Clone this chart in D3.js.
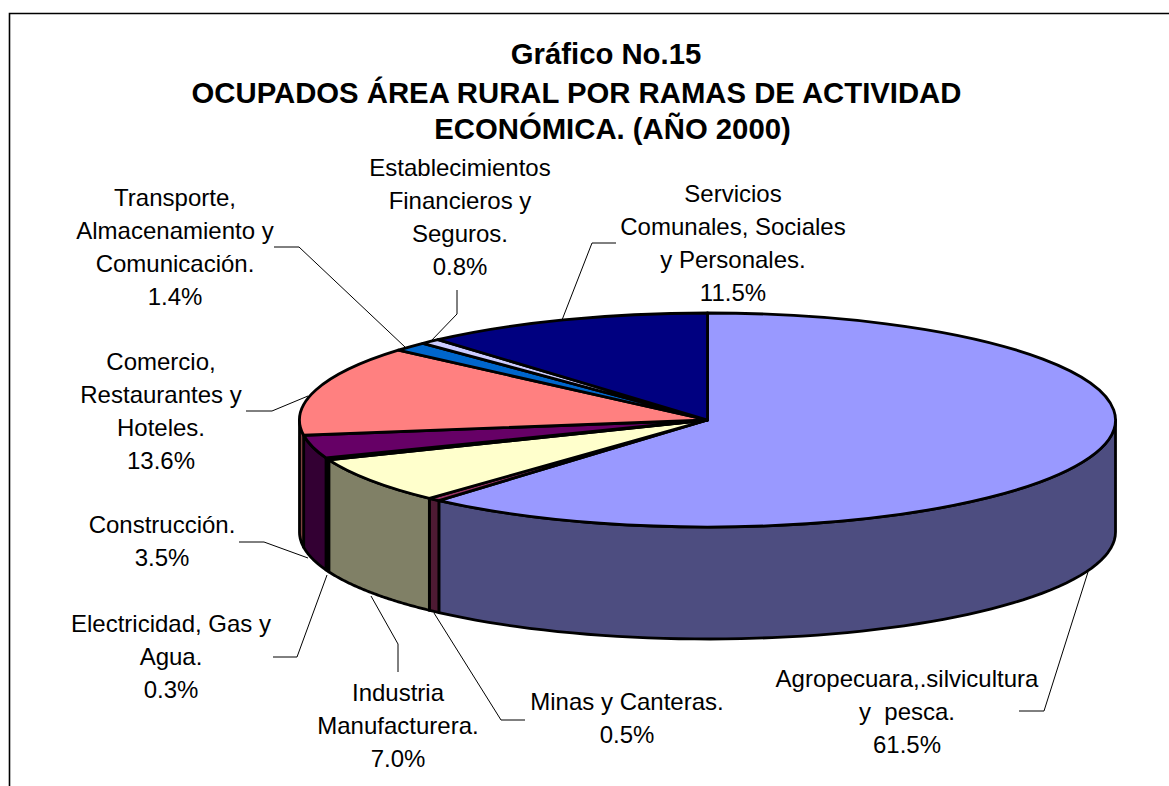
<!DOCTYPE html>
<html><head><meta charset="utf-8">
<script src="https://cdn.jsdelivr.net/npm/d3@7"></script>
<style>html,body{margin:0;padding:0;background:#fff}svg{display:block}text{font-family:"Liberation Sans",Arial,sans-serif;fill:#000}</style>
</head><body><svg id="c" width="1169" height="786"></svg>
<script>
const categories=["Agropecuara,.silvicultura y  pesca.","Minas y Canteras.","Industria Manufacturera.","Electricidad, Gas y Agua.","Construcción.","Comercio, Restaurantes y Hoteles.","Transporte, Almacenamiento y Comunicación.","Establecimientos Financieros y Seguros.","Servicios Comunales, Sociales y Personales."];
const values=[61.5,0.5,7.0,0.3,3.5,13.6,1.4,0.8,11.5];
const topColors=["#9999FF","#993366","#FFFFCC","#CCFFFF","#660066","#FF8080","#0066CC","#CCCCFF","#000080"];
const sideColors=["#4D4D80","#4D1A33","#808066","#668080","#330033","#804040","#003366","#666680","#000040"];
const titleLines=["Gráfico No.15","OCUPADOS ÁREA RURAL POR RAMAS DE ACTIVIDAD","ECONÓMICA. (AÑO 2000)"];
const titleAnchors=[[606,64],[576.5,103],[612.5,138.5]];
const labelLines=[
 ["Agropecuara,.silvicultura","y\u00A0\u00A0pesca."],["Minas y Canteras."],["Industria","Manufacturera."],
 ["Electricidad, Gas y","Agua."],["Construcción."],["Comercio,","Restaurantes y","Hoteles."],
 ["Transporte,","Almacenamiento y","Comunicación."],["Establecimientos","Financieros y","Seguros."],
 ["Servicios","Comunales, Sociales","y Personales."]];
const labelAnchors=[[907,687],[627,710],[398,701],[171,632],[162,533],[161,370],[175,206],[460,176],[733,202]];
const leaders=[
 [[1019,711],[1044,711],[1088,572]],
 [[525,720],[501,720],[434,613]],
 [[398,672],[398,644],[371,596]],
 [[273,657],[297,657],[327,575]],
 [[239,542],[264,542],[308,558]],
 [[246,411],[272,411],[308,396]],
 [[274,247],[299,247],[405,347]],
 [[457,290],[457,314],[430,342]],
 [[616,243],[592,243],[562,320]]];

const svg=d3.select("#c");
const cx=707.5,cy=420,rx=408,ry=107,depth=112,lh=33;
svg.append("path").attr("d","M9.5,786V13.5H1169").attr("fill","none").attr("stroke","#000").attr("stroke-width",1.6);

const arcs=d3.pie().sort(null).value(d=>d)(values);
const pt=(a,dz=0)=>[cx+rx*Math.sin(a),cy-ry*Math.cos(a)+dz];
const line=d3.line();

// side walls: only the front half of the rim is seen
const sides=svg.append("g");
arcs.forEach((d,i)=>{
  const a0=Math.max(d.startAngle,Math.PI/2),a1=Math.min(d.endAngle,3*Math.PI/2);
  if(a1<=a0)return;
  const as=d3.range(0,61).map(k=>a0+(a1-a0)*k/60);
  const p=[...as.map(a=>pt(a)),...as.slice().reverse().map(a=>pt(a,depth))];
  sides.append("path").attr("d",line(p)+"Z").attr("fill",sideColors[i]).attr("stroke","#000").attr("stroke-width",2.8).attr("stroke-linejoin","round");
});

// top faces
const arc=d3.arc().innerRadius(0).outerRadius(rx);
svg.append("g").attr("transform",`translate(${cx},${cy}) scale(1,${ry/rx})`)
 .selectAll("path").data(arcs).join("path")
 .attr("d",arc).attr("fill",(d,i)=>topColors[i]).attr("stroke","#000").attr("stroke-width",2.8)
 .attr("stroke-linejoin","round").attr("vector-effect","non-scaling-stroke");

// leaders
svg.append("g").selectAll("path").data(leaders).join("path")
 .attr("d",d=>line(d)).attr("fill","none").attr("stroke","#000").attr("stroke-width",1);

// title
svg.append("g").selectAll("text").data(titleLines).join("text")
 .attr("x",(d,i)=>titleAnchors[i][0]).attr("y",(d,i)=>titleAnchors[i][1])
 .attr("text-anchor","middle").attr("font-weight","bold").attr("font-size",29.3).text(d=>d);

// labels
const fmt=d3.format(".1f");
labelLines.forEach((ls,i)=>{
  const t=svg.append("text").attr("text-anchor","middle").attr("font-size",24);
  [...ls,fmt(values[i])+"%"].forEach((s,k)=>{
    t.append("tspan").attr("x",labelAnchors[i][0]).attr("y",labelAnchors[i][1]+k*lh).text(s);
  });
});
</script></body></html>
